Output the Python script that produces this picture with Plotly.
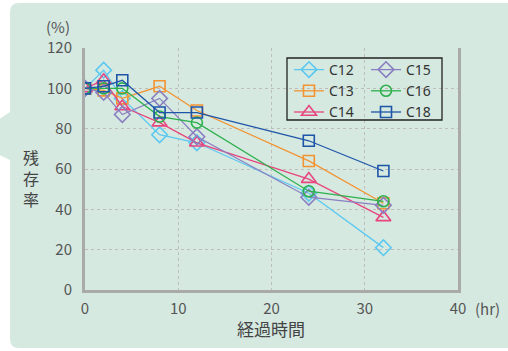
import plotly.graph_objects as go

# elapsed time (hr)
hours = [0, 2, 4, 8, 12, 24, 32]

# residual rate (%) per compound
c12 = [100, 109, 95, 77, 73, 48, 21]
c13 = [100, 99, 95, 101, 89, 64, 43]
c14 = [100, 104, 91, 83, 73, 55, 36]
c15 = [100, 98, 87, 95, 76, 46, 42]
c16 = [100, 100, 100, 86, 83, 49, 44]
c18 = [100, 101, 104, 88, 88, 74, 59]

x_ticks = [0, 10, 20, 30, 40]
y_ticks = [0, 20, 40, 60, 80, 100, 120]

W, H = 508, 351
L, R, T, B = 85, 50, 48, 61
PW, PH = W - L - R, H - T - B


def px(x):
    return (x - L) / PW


def py(y):
    return (H - B - y) / PH


series = [
    ("C12", c12, "#5cc8f0", "diamond-open", 12, "legend"),
    ("C13", c13, "#f39433", "square-open", 11, "legend"),
    ("C14", c14, "#e8457f", "triangle-up-open", 13, "legend"),
    ("C15", c15, "#8a7fc0", "diamond-open", 12, "legend2"),
    ("C16", c16, "#2eb04d", "circle-open", 11, "legend2"),
    ("C18", c18, "#1f55a8", "square-open", 11, "legend2"),
]

fig = go.Figure()
for name, vals, color, sym, size, leg in series:
    fig.add_trace(go.Scatter(
        x=hours, y=vals, name=name, mode="lines+markers",
        line=dict(color=color, width=1.3),
        marker=dict(symbol=sym, size=size, color=color, line=dict(width=1.6, color=color)),
        legend=leg,
    ))

font_main = "Noto Sans CJK JP"
tick_font = dict(family=font_main, size=15, color="#555555")
legend_font = dict(family="Noto Sans", size=14, color="#333333")

# rounded panel with a pointer on its left edge
r = 9
x0, x1, y0, y1 = 10, 520, 3, 348
panel = (
    f"M {px(x0 + r)},{py(y0)} L {px(x1)},{py(y0)} L {px(x1)},{py(y1)} "
    f"L {px(x0 + r)},{py(y1)} Q {px(x0)},{py(y1)} {px(x0)},{py(y1 - r)} "
    f"L {px(x0)},{py(160)} L {px(-20)},{py(146)} L {px(-20)},{py(132)} L {px(x0)},{py(112)} "
    f"L {px(x0)},{py(y0 + r)} Q {px(x0)},{py(y0)} {px(x0 + r)},{py(y0)} Z"
)


def label(text, x, y, size, color):
    return dict(text=text, xref="paper", yref="paper", x=px(x), y=py(y),
                xanchor="center", yanchor="middle", showarrow=False,
                font=dict(family=font_main, size=size, color=color))


fig.update_layout(
    width=W, height=H,
    margin=dict(l=L, r=R, t=T, b=B),
    paper_bgcolor="white",
    plot_bgcolor="white",
    font=dict(family=font_main),
    showlegend=True,
    legend=dict(
        x=px(289), y=py(54), xanchor="left", yanchor="top",
        bgcolor="rgba(0,0,0,0)", borderwidth=0, tracegroupgap=0,
        font=legend_font, itemwidth=30,
    ),
    legend2=dict(
        x=px(366), y=py(54), xanchor="left", yanchor="top",
        bgcolor="rgba(0,0,0,0)", borderwidth=0, tracegroupgap=0,
        font=legend_font, itemwidth=30,
    ),
    xaxis=dict(
        range=[0, 40], tickvals=x_ticks, ticktext=[str(v) for v in x_ticks],
        showgrid=True, gridcolor="#bdbdbd", griddash="3px,3px", gridwidth=1,
        showline=True, linecolor="#aaaaaa", linewidth=3, mirror=False,
        zeroline=False, ticks="", ticklabelstandoff=3, tickfont=tick_font,
    ),
    yaxis=dict(
        range=[0, 120], tickvals=y_ticks, ticktext=[str(v) for v in y_ticks],
        showgrid=True, gridcolor="#bdbdbd", griddash="3px,3px", gridwidth=1,
        showline=True, linecolor="#aaaaaa", linewidth=3, mirror=True,
        zeroline=False, ticks="", ticklabelstandoff=7, tickfont=tick_font,
    ),
    shapes=[
        dict(type="path", path=panel, xref="paper", yref="paper",
             fillcolor="#d5e9e1", line=dict(width=0), layer="below"),
        dict(type="rect", xref="paper", yref="paper",
             x0=px(287), x1=px(442), y0=py(120), y1=py(58),
             line=dict(color="#222222", width=1.3), fillcolor="rgba(0,0,0,0)"),
    ],
    annotations=[
        label("(%)", 58, 26, 15, "#555555"),
        label("残<br>存<br>率", 31, 178, 16, "#444444"),
        label("経過時間", 271, 328, 17, "#444444"),
        label("(hr)", 487, 308, 15, "#555555"),
    ],
)

fig.write_html("out.html")
